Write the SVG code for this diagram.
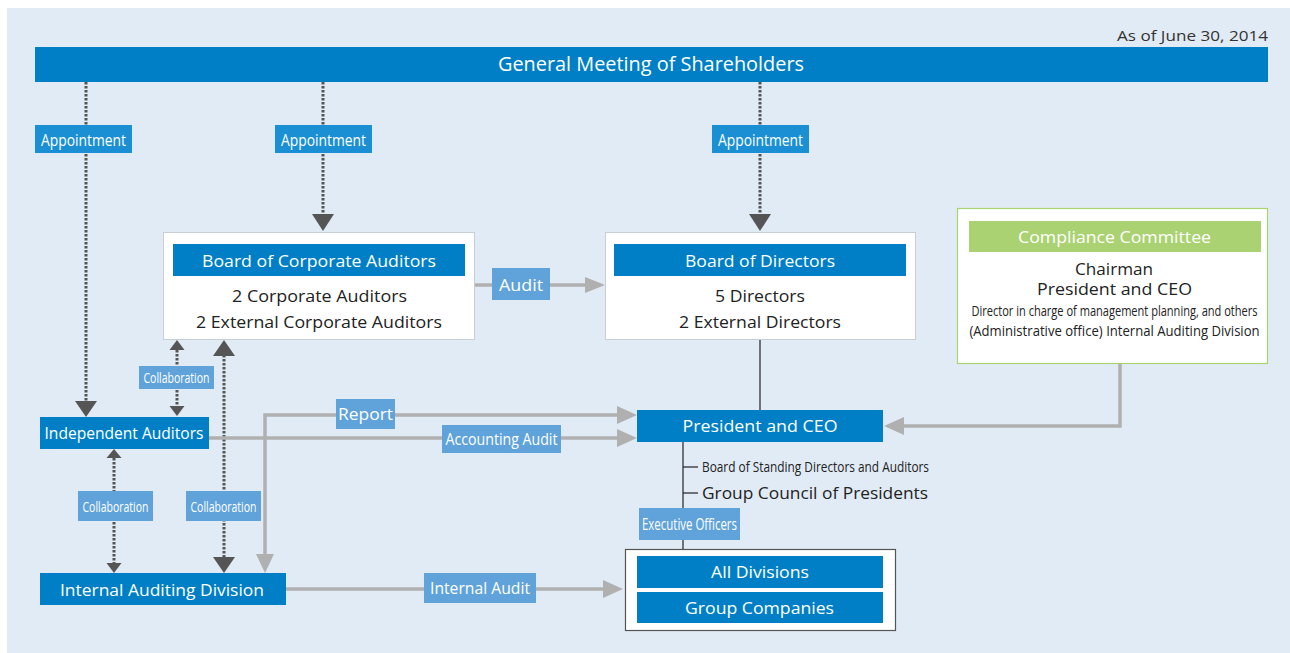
<svg xmlns="http://www.w3.org/2000/svg" width="1290" height="653" viewBox="0 0 1290 653">
<style>
text{font-family:"Open Sans","Noto Sans","Liberation Sans",sans-serif;}
.w{fill:#fff;}
.d{fill:#222;}
.c{text-anchor:middle;}
.blue{fill:#007fc6;}
.lbl{fill:#60a3da;}
.app{fill:#1b8fd4;}
.box{fill:#fff;stroke:#c9ced4;stroke-width:1;}
.dot{stroke:#555;stroke-width:3;stroke-dasharray:2.5 1.5;fill:none;}
.gl{stroke:#b0b0b0;stroke-width:3.5;fill:none;}
.dh{fill:#555;}
.gh{fill:#b0b0b0;}
.bl{stroke:#222;stroke-width:1.2;fill:none;}
</style>
<rect x="7" y="8" width="1283" height="645" fill="#e1ebf5"/>
<text x="1268" y="41" font-size="14" fill="#333" text-anchor="end" textLength="151" lengthAdjust="spacingAndGlyphs">As of June 30, 2014</text>

<g id="connectors">
  <line class="dot" x1="86" y1="82" x2="86" y2="403"/>
  <polygon class="dh" points="75,401 97,401 86,417"/>
  <line class="dot" x1="323" y1="82" x2="323" y2="216"/>
  <polygon class="dh" points="312,214 334,214 323,231"/>
  <line class="dot" x1="760" y1="82" x2="760" y2="216"/>
  <polygon class="dh" points="749,214 771,214 760,231"/>
  <line class="dot" x1="177" y1="350" x2="177" y2="406"/>
  <polygon class="dh" points="169.5,350 184.5,350 177,340"/>
  <polygon class="dh" points="169.5,406 184.5,406 177,416"/>
  <line class="dot" x1="114" y1="458" x2="114" y2="563"/>
  <polygon class="dh" points="106.5,458 121.5,458 114,449"/>
  <polygon class="dh" points="106.5,563 121.5,563 114,573"/>
  <line class="dot" x1="224" y1="355" x2="224" y2="558"/>
  <polygon class="dh" points="213,356 235,356 224,340"/>
  <polygon class="dh" points="213,557 235,557 224,573"/>
  <line class="gl" x1="474" y1="285" x2="587" y2="285"/>
  <polygon class="gh" points="585,277 605,285 585,293"/>
  <polyline class="gl" points="265,556 265,415 619,415"/>
  <polygon class="gh" points="256,554 274,554 265,573"/>
  <polygon class="gh" points="617,406 637,415 617,424"/>
  <line class="gl" x1="209" y1="438" x2="619" y2="438"/>
  <polygon class="gh" points="617,429 637,438 617,447"/>
  <line class="gl" x1="286" y1="589" x2="605" y2="589"/>
  <polygon class="gh" points="603,580 623,589 603,598"/>
  <polyline class="gl" points="1120,364 1120,426 902,426"/>
  <polygon class="gh" points="904,417 884,426 904,435"/>
  <line class="bl" x1="760" y1="339" x2="760" y2="410"/>
  <line class="bl" x1="683" y1="442" x2="683" y2="549"/>
  <line class="bl" x1="683" y1="467" x2="698" y2="467"/>
  <line class="bl" x1="683" y1="493" x2="698" y2="493"/>
</g>

<g id="labels">
  <rect class="app" x="35" y="125" width="97" height="28"/>
  <text class="w c" x="83.5" y="146" font-size="17" textLength="85" lengthAdjust="spacingAndGlyphs">Appointment</text>
  <rect class="app" x="275" y="125" width="97" height="28"/>
  <text class="w c" x="323.5" y="146" font-size="17" textLength="85" lengthAdjust="spacingAndGlyphs">Appointment</text>
  <rect class="app" x="712" y="125" width="97" height="28"/>
  <text class="w c" x="760.5" y="146" font-size="17" textLength="85" lengthAdjust="spacingAndGlyphs">Appointment</text>
  <rect class="lbl" x="492" y="268" width="58" height="32"/>
  <text class="w c" x="521" y="291" font-size="17" textLength="44" lengthAdjust="spacingAndGlyphs">Audit</text>
  <rect class="lbl" x="139" y="366" width="75" height="23"/>
  <text class="w c" x="176.5" y="383" font-size="15" textLength="66" lengthAdjust="spacingAndGlyphs">Collaboration</text>
  <rect class="lbl" x="78" y="491" width="75" height="30"/>
  <text class="w c" x="115.5" y="512" font-size="15" textLength="66" lengthAdjust="spacingAndGlyphs">Collaboration</text>
  <rect class="lbl" x="186" y="491" width="75" height="30"/>
  <text class="w c" x="223.5" y="512" font-size="15" textLength="66" lengthAdjust="spacingAndGlyphs">Collaboration</text>
  <rect class="lbl" x="336" y="399" width="59" height="30"/>
  <text class="w c" x="365.5" y="420" font-size="17" textLength="55" lengthAdjust="spacingAndGlyphs">Report</text>
  <rect class="lbl" x="442" y="425" width="119" height="28"/>
  <text class="w c" x="501.5" y="445" font-size="16" textLength="112" lengthAdjust="spacingAndGlyphs">Accounting Audit</text>
  <rect class="lbl" x="424" y="573" width="112" height="30"/>
  <text class="w c" x="480" y="594" font-size="17" textLength="100" lengthAdjust="spacingAndGlyphs">Internal Audit</text>
  <rect class="lbl" x="639" y="508" width="101" height="32"/>
  <text class="w c" x="689.5" y="530" font-size="16" textLength="95" lengthAdjust="spacingAndGlyphs">Executive Officers</text>
</g>

<g id="shareholders">
  <rect class="blue" x="35" y="47" width="1233" height="35"/>
  <text class="w c" x="651" y="71" font-size="20" textLength="306" lengthAdjust="spacingAndGlyphs">General Meeting of Shareholders</text>
</g>

<g id="board-auditors">
  <rect class="box" x="163.5" y="232.5" width="311" height="107"/>
  <rect class="blue" x="173" y="244" width="292" height="32"/>
  <text class="w c" x="319" y="267" font-size="17" textLength="234" lengthAdjust="spacingAndGlyphs">Board of Corporate Auditors</text>
  <text class="d c" x="319.5" y="302" font-size="17" textLength="175" lengthAdjust="spacingAndGlyphs">2 Corporate Auditors</text>
  <text class="d c" x="319" y="328" font-size="17" textLength="246" lengthAdjust="spacingAndGlyphs">2 External Corporate Auditors</text>
</g>

<g id="board-directors">
  <rect class="box" x="605.5" y="232.5" width="310" height="107"/>
  <rect class="blue" x="614" y="244" width="292" height="32"/>
  <text class="w c" x="760" y="267" font-size="17" textLength="150" lengthAdjust="spacingAndGlyphs">Board of Directors</text>
  <text class="d c" x="760" y="302" font-size="17" textLength="90" lengthAdjust="spacingAndGlyphs">5 Directors</text>
  <text class="d c" x="760" y="328" font-size="17" textLength="162" lengthAdjust="spacingAndGlyphs">2 External Directors</text>
</g>

<g id="compliance">
  <rect x="957.5" y="208.5" width="310" height="155" fill="#fff" stroke="#a8d46f" stroke-width="1.2"/>
  <rect x="969" y="221" width="292" height="31" fill="#aad272"/>
  <text class="w c" x="1114.5" y="243" font-size="17" textLength="193" lengthAdjust="spacingAndGlyphs">Compliance Committee</text>
  <text class="d c" x="1114" y="275" font-size="16" textLength="78" lengthAdjust="spacingAndGlyphs">Chairman</text>
  <text class="d c" x="1114.5" y="295" font-size="16" textLength="155" lengthAdjust="spacingAndGlyphs">President and CEO</text>
  <text class="d c" transform="translate(1114.5,316) scale(0.763,1)" x="0" y="0" font-size="14.5">Director in charge of management planning, and others</text>
  <text class="d c" transform="translate(1114.5,336) scale(0.905,1)" x="0" y="0" font-size="14.5">(Administrative office) Internal Auditing Division</text>
</g>

<g id="president">
  <rect class="blue" x="637" y="410" width="246" height="32"/>
  <text class="w c" x="760" y="432" font-size="17" textLength="155" lengthAdjust="spacingAndGlyphs">President and CEO</text>
</g>

<g id="standing-board">
  <text class="d" x="702" y="472" font-size="15" textLength="227" lengthAdjust="spacingAndGlyphs">Board of Standing Directors and Auditors</text>
</g>
<g id="group-council">
  <text class="d" x="702" y="499" font-size="17" textLength="226" lengthAdjust="spacingAndGlyphs">Group Council of Presidents</text>
</g>

<g id="independent-auditors">
  <rect class="blue" x="40" y="417" width="169" height="32"/>
  <text class="w c" x="124" y="439" font-size="17" textLength="159" lengthAdjust="spacingAndGlyphs">Independent Auditors</text>
</g>

<g id="internal-auditing">
  <rect class="blue" x="40" y="573" width="246" height="32"/>
  <text class="w c" x="162" y="596" font-size="17" textLength="204" lengthAdjust="spacingAndGlyphs">Internal Auditing Division</text>
</g>

<g id="divisions">
  <rect x="625.5" y="549.5" width="270" height="81" fill="#fff" stroke="#555" stroke-width="1.2"/>
  <rect class="blue" x="637" y="556" width="246" height="32"/>
  <text class="w c" x="760" y="578" font-size="17" textLength="98" lengthAdjust="spacingAndGlyphs">All Divisions</text>
  <rect class="blue" x="637" y="592" width="246" height="31"/>
  <text class="w c" x="759.5" y="614" font-size="17" textLength="149" lengthAdjust="spacingAndGlyphs">Group Companies</text>
</g>
</svg>
